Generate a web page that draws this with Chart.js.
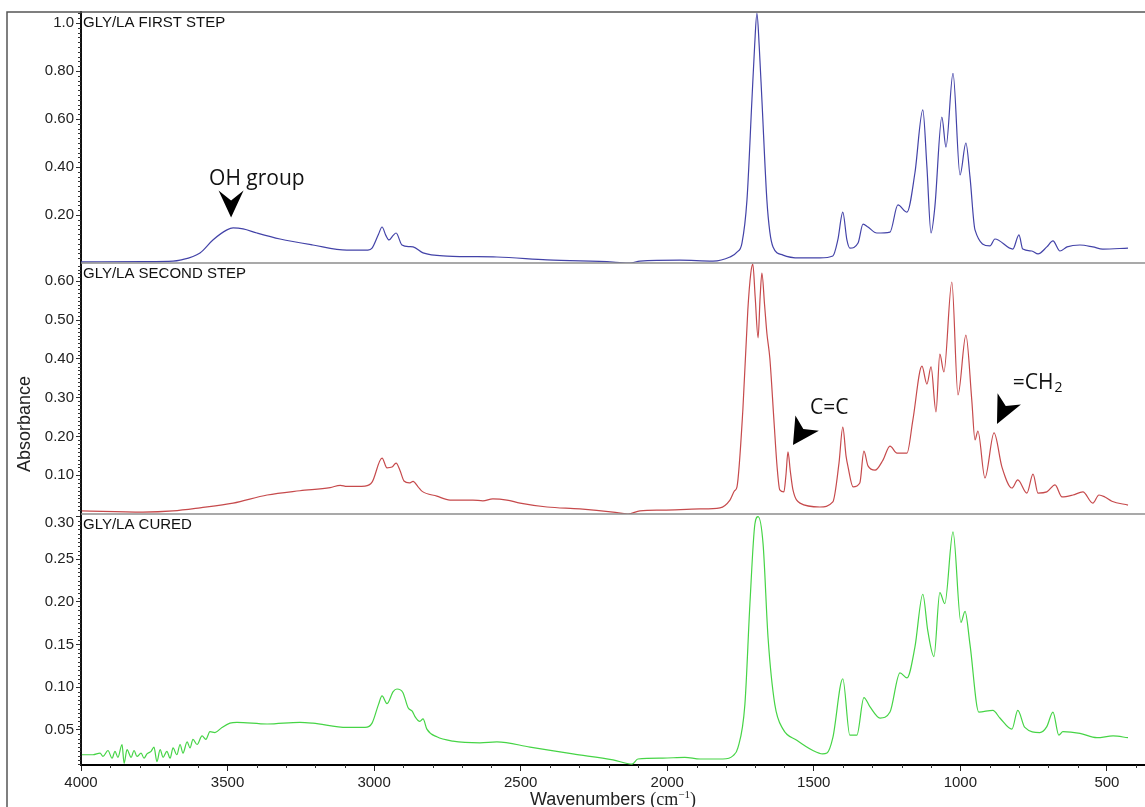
<!DOCTYPE html>
<html lang="en">
<head>
  <meta charset="UTF-8">
  <title>FTIR - GLY/LA</title>
  <script src="https://cdn.jsdelivr.net/npm/chart.js"></script>
  <style>
    html, body { margin: 0; padding: 0; background: #fff; }
    #wrap { width: 1145px; height: 807px; }
  </style>
</head>
<body>
  <div id="wrap"><canvas id="ftirChart" width="1145" height="807"></canvas></div>

  <script>
    // axis ticks
    const xTicks = [4000, 3500, 3000, 2500, 2000, 1500, 1000, 500];
    const topTicks = [0.2, 0.4, 0.6, 0.8, 1.0];
    const midTicks = [0.1, 0.2, 0.3, 0.4, 0.5, 0.6];
    const botTicks = [0.05, 0.1, 0.15, 0.2, 0.25, 0.3];

    const panelNames = ['GLY/LA FIRST STEP', 'GLY/LA SECOND STEP', 'GLY/LA CURED'];

    // GLY/LA first step
    const firstWn = [4000, 3789, 3686, 3662, 3594, 3550, 3502, 3481, 3447, 3400, 3321, 3209, 3093, 3021, 3007, 2985, 2973, 2960, 2949, 2935, 2925, 2905, 2880, 2867, 2833, 2751, 2581, 2410, 2185, 2127, 2093, 1957, 1844, 1786, 1762, 1745, 1728, 1711, 1702, 1694, 1686, 1677, 1660, 1650, 1639, 1605, 1547, 1479, 1435, 1418, 1401, 1387, 1377, 1349, 1332, 1315, 1285, 1240, 1213, 1182, 1155, 1128, 1114, 1100, 1087, 1063, 1049, 1025, 1001, 981, 967, 950, 899, 882, 821, 800, 787, 756, 735, 705, 684, 660, 636, 592, 548, 514, 428];
    const firstAbs = [0.005, 0.006, 0.008, 0.012, 0.042, 0.096, 0.138, 0.146, 0.142, 0.125, 0.100, 0.075, 0.054, 0.054, 0.062, 0.120, 0.150, 0.115, 0.096, 0.115, 0.125, 0.075, 0.068, 0.067, 0.042, 0.029, 0.025, 0.013, 0.004, 0.000, 0.008, 0.012, 0.008, 0.025, 0.045, 0.083, 0.262, 0.680, 0.900, 1.040, 0.900, 0.680, 0.262, 0.130, 0.067, 0.033, 0.021, 0.021, 0.029, 0.096, 0.212, 0.096, 0.062, 0.083, 0.162, 0.150, 0.125, 0.129, 0.242, 0.212, 0.375, 0.638, 0.400, 0.125, 0.233, 0.608, 0.483, 0.790, 0.367, 0.500, 0.358, 0.138, 0.071, 0.100, 0.058, 0.117, 0.058, 0.050, 0.038, 0.067, 0.092, 0.050, 0.067, 0.075, 0.067, 0.058, 0.062];

    // GLY/LA second step
    const secondWn = [3997, 3789, 3686, 3594, 3481, 3365, 3253, 3150, 3115, 3093, 3031, 3007, 2973, 2956, 2939, 2925, 2912, 2898, 2880, 2867, 2850, 2837, 2786, 2741, 2663, 2629, 2595, 2547, 2502, 2410, 2298, 2185, 2134, 2093, 2015, 1888, 1820, 1786, 1770, 1762, 1742, 1725, 1715, 1708, 1700, 1690, 1683, 1677, 1668, 1660, 1650, 1636, 1625, 1616, 1602, 1595, 1588, 1580, 1571, 1547, 1479, 1435, 1414, 1401, 1390, 1383, 1366, 1343, 1329, 1315, 1291, 1264, 1240, 1216, 1182, 1162, 1131, 1114, 1100, 1083, 1070, 1056, 1029, 1008, 981, 961, 950, 940, 916, 885, 858, 824, 804, 773, 752, 735, 705, 677, 653, 616, 582, 548, 527, 507, 483, 428];
    const secondAbs = [0.008, 0.005, 0.008, 0.016, 0.028, 0.049, 0.060, 0.068, 0.074, 0.071, 0.072, 0.082, 0.144, 0.119, 0.121, 0.131, 0.113, 0.085, 0.080, 0.084, 0.070, 0.059, 0.046, 0.036, 0.036, 0.034, 0.039, 0.036, 0.028, 0.018, 0.013, 0.005, 0.000, 0.008, 0.010, 0.013, 0.016, 0.036, 0.060, 0.070, 0.268, 0.526, 0.620, 0.644, 0.560, 0.454, 0.560, 0.621, 0.540, 0.466, 0.402, 0.242, 0.120, 0.062, 0.057, 0.100, 0.160, 0.110, 0.062, 0.028, 0.018, 0.031, 0.131, 0.224, 0.150, 0.121, 0.070, 0.080, 0.162, 0.124, 0.113, 0.139, 0.175, 0.157, 0.157, 0.242, 0.381, 0.335, 0.379, 0.263, 0.412, 0.366, 0.598, 0.307, 0.461, 0.294, 0.191, 0.214, 0.093, 0.209, 0.121, 0.067, 0.088, 0.054, 0.103, 0.054, 0.057, 0.075, 0.044, 0.049, 0.057, 0.028, 0.049, 0.044, 0.033, 0.023];

    // GLY/LA cured
    const curedWn = [3997, 3959, 3935, 3925, 3908, 3894, 3884, 3874, 3860, 3853, 3843, 3829, 3819, 3809, 3795, 3785, 3775, 3761, 3751, 3741, 3730, 3720, 3707, 3696, 3686, 3673, 3662, 3652, 3638, 3628, 3618, 3604, 3587, 3574, 3560, 3543, 3519, 3492, 3468, 3365, 3253, 3209, 3093, 3031, 3007, 2985, 2973, 2956, 2935, 2922, 2902, 2884, 2870, 2861, 2844, 2833, 2820, 2786, 2731, 2639, 2581, 2468, 2322, 2185, 2120, 2100, 2015, 1940, 1888, 1810, 1775, 1759, 1735, 1718, 1701, 1690, 1673, 1656, 1633, 1605, 1558, 1503, 1470, 1455, 1435, 1401, 1377, 1353, 1329, 1308, 1274, 1240, 1206, 1182, 1155, 1128, 1111, 1090, 1070, 1053, 1025, 998, 984, 967, 937, 889, 865, 824, 804, 780, 729, 705, 684, 664, 650, 592, 534, 479, 428];
    const curedAbs = [0.021, 0.021, 0.023, 0.019, 0.026, 0.017, 0.025, 0.018, 0.033, 0.011, 0.027, 0.018, 0.026, 0.019, 0.023, 0.017, 0.022, 0.025, 0.030, 0.013, 0.027, 0.018, 0.025, 0.017, 0.029, 0.021, 0.033, 0.023, 0.036, 0.029, 0.039, 0.033, 0.043, 0.039, 0.048, 0.047, 0.053, 0.058, 0.059, 0.057, 0.059, 0.058, 0.053, 0.053, 0.058, 0.080, 0.090, 0.081, 0.095, 0.098, 0.094, 0.076, 0.072, 0.066, 0.060, 0.063, 0.051, 0.042, 0.037, 0.035, 0.036, 0.030, 0.022, 0.015, 0.010, 0.016, 0.017, 0.018, 0.016, 0.016, 0.020, 0.029, 0.080, 0.197, 0.291, 0.300, 0.268, 0.158, 0.080, 0.051, 0.038, 0.026, 0.022, 0.023, 0.041, 0.110, 0.044, 0.044, 0.088, 0.077, 0.064, 0.071, 0.117, 0.111, 0.147, 0.209, 0.166, 0.136, 0.211, 0.198, 0.282, 0.176, 0.189, 0.150, 0.071, 0.073, 0.064, 0.051, 0.073, 0.053, 0.047, 0.054, 0.071, 0.044, 0.048, 0.046, 0.041, 0.043, 0.041];

    // annotations
    const notes = [
      { text: 'OH group', wn: 3563, abs: 0.325, axis: 'yTop' },
      { text: 'C=C', wn: 1513, abs: 0.258, axis: 'yMid' },
      { text: '=CH', sub: '2', wn: 821, abs: 0.322, axis: 'yMid' }
    ];
    const arrows = [
      { wn: 3488, abs: 0.19, axis: 'yTop', angle: 90, len: 27, half: 12.5, notch: 10 },
      { wn: 1571, abs: 0.178, axis: 'yMid', angle: 123, len: 26, half: 14, notch: 7 },
      { wn: 875, abs: 0.232, axis: 'yMid', angle: 116, len: 28, half: 13, notch: 8 }
    ];

    const sans = '"Liberation Sans", Arial, sans-serif';
    Chart.defaults.font.family = sans;

    function points(wn, abs) {
      return wn.map((w, i) => ({ x: w, y: abs[i] }));
    }

    function yAxis(min, max, tickValues, fmt, weight) {
      return {
        type: 'linear',
        position: 'left',
        stack: 'spectra',
        stackWeight: 1,
        weight: weight,
        min: min,
        max: max,
        afterBuildTicks: s => { s.ticks = tickValues.map(v => ({ value: v })); },
        afterFit: s => { s.width = 74; },
        ticks: { callback: fmt, color: '#222', font: { size: 15 }, padding: 2, autoSkip: false },
        grid: { drawOnChartArea: false, tickLength: 5, color: '#333' },
        border: { color: '#111', width: 2 }
      };
    }

    function drawArrow(ctx, tx, ty, a) {
      const r = a.angle * Math.PI / 180;
      const dx = Math.cos(r), dy = Math.sin(r);
      const bx = tx - dx * a.len, by = ty - dy * a.len;
      ctx.beginPath();
      ctx.moveTo(tx, ty);
      ctx.lineTo(bx - dy * a.half, by + dx * a.half);
      ctx.lineTo(bx + dx * a.notch, by + dy * a.notch);
      ctx.lineTo(bx + dy * a.half, by - dx * a.half);
      ctx.closePath();
      ctx.fill();
    }

    const decorations = {
      id: 'decorations',
      afterDraw(chart) {
        const { ctx, chartArea: area, scales } = chart;
        const x = scales.x;
        const panels = [scales.yTop, scales.yMid, scales.yBot];
        ctx.save();

        // outer frame
        ctx.strokeStyle = '#555';
        ctx.lineWidth = 1.5;
        ctx.beginPath();
        ctx.moveTo(7, chart.height);
        ctx.lineTo(7, area.top);
        ctx.lineTo(area.right, area.top);
        ctx.stroke();

        // separators between panels
        ctx.strokeStyle = '#8c8c8c';
        [scales.yMid, scales.yBot].forEach(s => {
          ctx.beginPath();
          ctx.moveTo(area.left, s.top);
          ctx.lineTo(area.right, s.top);
          ctx.stroke();
        });

        // minor ticks
        ctx.strokeStyle = '#333';
        ctx.lineWidth = 1;
        const minorSteps = [0.02, 0.01, 0.005];
        panels.forEach((s, i) => {
          const step = minorSteps[i];
          for (let k = Math.ceil(s.min / step); k * step <= s.max; k++) {
            if (k % 10 === 0) continue;
            const py = Math.round(s.getPixelForValue(k * step)) + 0.5;
            ctx.beginPath();
            ctx.moveTo(area.left - 3, py);
            ctx.lineTo(area.left, py);
            ctx.stroke();
          }
        });
        for (let w = 400; w <= 4000; w += 100) {
          if (w % 500 === 0) continue;
          const px = Math.round(x.getPixelForValue(w)) + 0.5;
          ctx.beginPath();
          ctx.moveTo(px, area.bottom);
          ctx.lineTo(px, area.bottom + 3);
          ctx.stroke();
        }

        // top label of the cured panel, kept inside its panel
        const bot = scales.yBot;
        const topVal = botTicks[botTicks.length - 1];
        ctx.fillStyle = '#222';
        ctx.font = '15px ' + sans;
        ctx.textAlign = 'right';
        ctx.textBaseline = 'middle';
        ctx.fillText(topVal.toFixed(2), area.left - 7, Math.max(bot.getPixelForValue(topVal), bot.top + 9));

        // panel names
        ctx.fillStyle = '#111';
        ctx.textAlign = 'left';
        ctx.textBaseline = 'alphabetic';
        panels.forEach((s, i) => ctx.fillText(panelNames[i], area.left + 2, s.top + 15));

        // y title
        ctx.save();
        ctx.translate(25, 424);
        ctx.rotate(-Math.PI / 2);
        ctx.textAlign = 'center';
        ctx.textBaseline = 'middle';
        ctx.font = '18px ' + sans;
        ctx.fillStyle = '#222';
        ctx.fillText('Absorbance', 0, 0);
        ctx.restore();

        // x title: Wavenumbers (cm-1)
        const serif = '"Liberation Serif", "Times New Roman", serif';
        const p1 = 'Wavenumbers ', p2 = '(cm', p3 = '\u22121', p4 = ')';
        ctx.font = '18px ' + sans; const w1 = ctx.measureText(p1).width;
        ctx.font = '18px ' + serif; const w2 = ctx.measureText(p2).width;
        const w4 = ctx.measureText(p4).width;
        ctx.font = '11px ' + serif; const w3 = ctx.measureText(p3).width;
        let tx = (area.left + area.right) / 2 - (w1 + w2 + w3 + w4) / 2;
        const ty = 805;
        ctx.fillStyle = '#222';
        ctx.textAlign = 'left';
        ctx.font = '18px ' + sans; ctx.fillText(p1, tx, ty); tx += w1;
        ctx.font = '18px ' + serif; ctx.fillText(p2, tx, ty); tx += w2;
        ctx.font = '11px ' + serif; ctx.fillText(p3, tx, ty - 7); tx += w3;
        ctx.font = '18px ' + serif; ctx.fillText(p4, tx, ty);

        // annotations
        ctx.fillStyle = '#111';
        const noteFont = '"Open Sans", "DejaVu Sans", sans-serif';
        notes.forEach(n => {
          const px = x.getPixelForValue(n.wn);
          const py = scales[n.axis].getPixelForValue(n.abs);
          ctx.font = '21px ' + noteFont;
          ctx.fillText(n.text, px, py);
          if (n.sub) {
            const w = ctx.measureText(n.text).width;
            ctx.font = '14px ' + noteFont;
            ctx.fillText(n.sub, px + w + 1, py + 3);
          }
        });
        ctx.fillStyle = '#000';
        arrows.forEach(a => {
          drawArrow(ctx, x.getPixelForValue(a.wn), scales[a.axis].getPixelForValue(a.abs), a);
        });

        ctx.restore();
      }
    };

    const lineStyle = { pointRadius: 0, borderWidth: 1.2, fill: false, cubicInterpolationMode: 'monotone', borderJoinStyle: 'round' };

    new Chart(document.getElementById('ftirChart').getContext('2d'), {
      type: 'line',
      data: {
        datasets: [
          Object.assign({ label: panelNames[0], data: points(firstWn, firstAbs), yAxisID: 'yTop', borderColor: '#4343a8' }, lineStyle),
          Object.assign({ label: panelNames[1], data: points(secondWn, secondAbs), yAxisID: 'yMid', borderColor: '#c64a4c' }, lineStyle),
          Object.assign({ label: panelNames[2], data: points(curedWn, curedAbs), yAxisID: 'yBot', borderColor: '#46d446' }, lineStyle)
        ]
      },
      options: {
        responsive: false,
        animation: false,
        events: [],
        layout: { padding: { top: 12, left: 7, right: 0, bottom: 0 } },
        plugins: { legend: { display: false }, tooltip: { enabled: false } },
        scales: {
          x: {
            type: 'linear',
            reverse: true,
            min: 370,
            max: 4000,
            afterBuildTicks: s => { s.ticks = xTicks.map(v => ({ value: v })); },
            afterFit: s => { s.height = 42; },
            ticks: { callback: v => String(v), color: '#222', font: { size: 15 }, padding: 3, maxRotation: 0, autoSkip: false },
            grid: { drawOnChartArea: false, tickLength: 6, color: '#222' },
            border: { color: '#000', width: 2 }
          },
          yTop: yAxis(0, 1.046, topTicks, v => v === 1 ? '1.0' : v.toFixed(2), 3),
          yMid: yAxis(0, 0.647, midTicks, v => v.toFixed(2), 2),
          yBot: yAxis(0.009, 0.303, botTicks, v => v >= 0.3 ? '' : v.toFixed(2), 1)
        }
      },
      plugins: [decorations]
    });
  </script>
</body>
</html>
